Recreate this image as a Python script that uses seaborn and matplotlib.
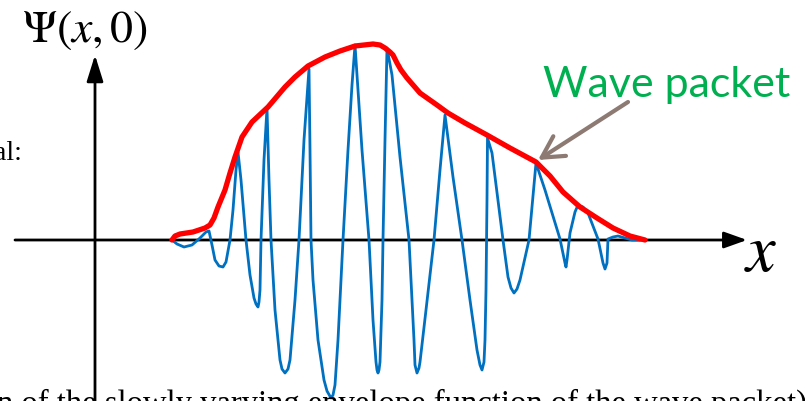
import numpy as np
import pandas as pd
import matplotlib
matplotlib.use("Agg")
import matplotlib.pyplot as plt
import seaborn as sns

# ---- data (origin at the axes crossing) ----
wave_x = [77, 82, 89, 97, 105, 111, 114, 117, 120, 124, 128, 131, 135, 138, 141, 143,
          146, 151, 155, 159, 161, 163, 164, 165, 166, 169, 172, 174, 176, 180, 185, 187,
          190, 193, 195, 200, 204, 209, 214, 215, 216, 218, 223, 229, 232, 236, 238, 240,
          243, 248, 253, 257, 260, 263, 267, 274, 278, 281, 282, 283, 284, 285, 287, 288,
          290, 292, 297, 305, 314, 319, 320, 322, 324, 325, 331, 339, 345, 350, 358, 367,
          375, 382, 385, 387, 389, 390, 391, 392, 392.5, 397, 408, 413, 416, 419, 422, 425,
          434, 441, 450, 465, 470, 471, 472, 475, 480, 483, 488, 493, 503, 508, 510, 512,
          513, 518, 523, 530, 537, 545]
wave_y = [0, -4, -7, -5, 2, 8, 9, -5, -20, -26, -27, -22, 0, 30, 70, 88,
          60, 0, -35, -58, -64, -67, -62, -50, 0, 80, 132, 60, 0, -70, -120, -129,
          -133, -129, -120, -60, 0, 100, 171, 90, 0, -40, -100, -140, -151, -158, -155, -145,
          -100, 0, 90, 155, 195, 150, 90, 0, -80, -122, -130, -133, -130, -122, -60, 0,
          100, 192, 165, 83, 0, -100, -125, -133, -128, -122, -70, 0, 70, 125, 63, 0,
          -60, -110, -125, -130, -122, -100, -50, 40, 102, 87, 0, -37, -48, -53, -49, -40,
          0, 77, 50, 1, -23, -27, -20, 7, 28, 35, 33, 27, 1, -23, -29, -23,
          1, 3, 4, 2, 0, 0]

env_x = [77, 80, 85, 98, 110, 115, 119, 123, 130, 135, 140, 147, 157, 173, 190, 200,
         213, 230, 245, 260, 278, 285, 290, 295, 298, 302, 306, 312, 325, 342, 353, 370,
         392, 415, 441, 455, 468, 485, 502, 518, 535, 550]
env_y = [0, 4, 6, 8, 12, 15, 22, 33, 50, 67, 83, 103, 118, 133, 153, 163,
         174, 183, 189, 194, 196, 195, 192, 188, 185, 177, 170, 162, 147, 135, 127, 117,
         105, 92, 78, 64, 48, 33, 22, 12, 4, 0]

y_label = r"$\Psi(x,0)$"
x_label = r"$x$"
packet_label = "Wave packet"
left_snippet = "al:"
bottom_snippet = "n of the slowly varying envelope function of the wave packet)"

# ---- figure ----
sns.set_style("white")
plt.rcParams["mathtext.fontset"] = "stix"

fig = plt.figure(figsize=(8.05, 4.01), dpi=100)
ax = fig.add_axes([0, 0, 1, 1])

# axes arrows
ax.annotate("", xy=(652, 0), xytext=(-80, 0),
            arrowprops=dict(arrowstyle="-|>,head_length=1.4,head_width=0.5",
                            lw=2.0, color="black", mutation_scale=10,
                            shrinkA=0, shrinkB=0))
ax.annotate("", xy=(0, 185), xytext=(0, -170),
            arrowprops=dict(arrowstyle="-|>,head_length=1.6,head_width=0.5",
                            lw=2.0, color="black", mutation_scale=10,
                            shrinkA=0, shrinkB=0))

wave = pd.DataFrame({"x": wave_x, "y": wave_y})
env = pd.DataFrame({"x": env_x, "y": env_y})
sns.lineplot(data=wave, x="x", y="y", sort=False, estimator=None, ax=ax,
             color="#0070C0", lw=2.0, zorder=3)
sns.lineplot(data=env, x="x", y="y", sort=False, estimator=None, ax=ax,
             color="#FF0000", lw=3.8, zorder=4, solid_capstyle="round",
             solid_joinstyle="round")
ax.set_xlim(-95, 710)
ax.set_ylim(-161, 240)
ax.axis("off")

# pointer arrow
ax.annotate("", xy=(443, 80), xytext=(533, 138),
            arrowprops=dict(arrowstyle="->,head_length=1.1,head_width=0.6",
                            lw=3.0, color="#8C7A73", mutation_scale=14,
                            shrinkA=0, shrinkB=0, capstyle="round"),
            zorder=5)

# texts
ax.text(-73, 233, y_label, fontsize=33, ha="left", va="top", color="black")
ax.text(666, -12, x_label, fontsize=48, ha="center", va="center", color="black")
ax.text(448, 143, packet_label, fontsize=31, ha="left", va="baseline",
        color="#00B050", family=["Lato", "DejaVu Sans"])
ax.text(-73, 80, left_snippet, fontsize=20, ha="right", va="baseline",
        color="black", family=["Liberation Serif", "DejaVu Serif"])
ax.text(-98, -173, bottom_snippet, fontsize=23.5, ha="left", va="baseline",
        color="black", family=["Liberation Serif", "DejaVu Serif"])

fig.savefig("out.png", dpi=100)
